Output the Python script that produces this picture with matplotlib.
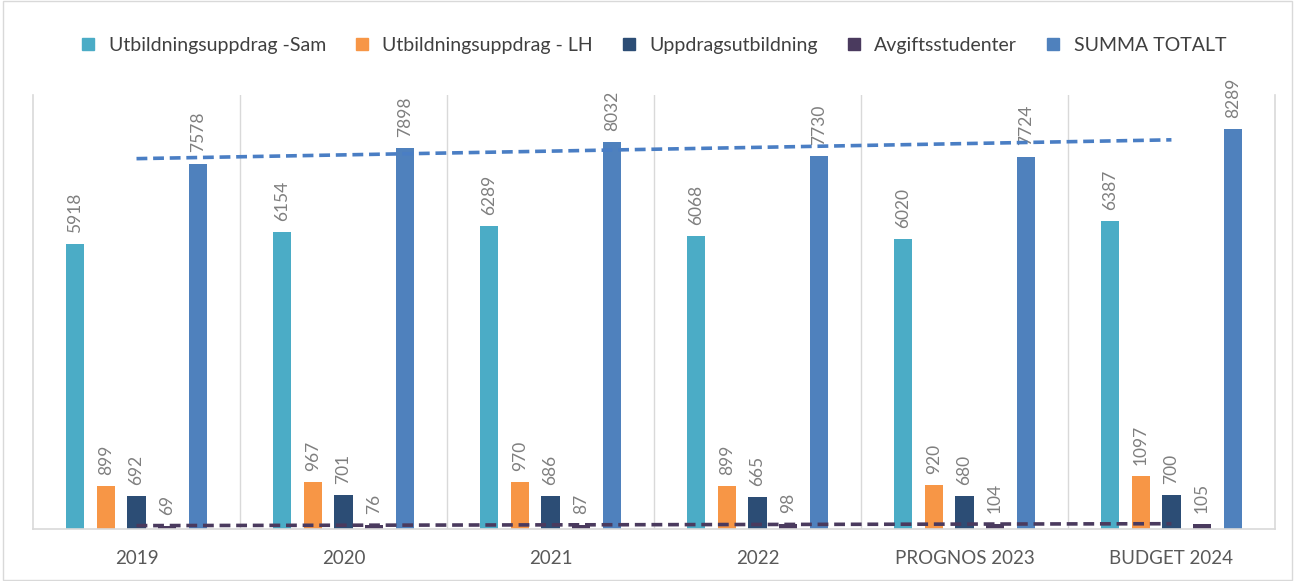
import numpy as np
import matplotlib.pyplot as plt
from matplotlib.lines import Line2D

# Data
categories = ['2019', '2020', '2021', '2022', 'PROGNOS 2023', 'BUDGET 2024']
series_names = ['Utbildningsuppdrag -Sam', 'Utbildningsuppdrag - LH',
                'Uppdragsutbildning', 'Avgiftsstudenter', 'SUMMA TOTALT']
sam = [5918, 6154, 6289, 6068, 6020, 6387]
lh = [899, 967, 970, 899, 920, 1097]
uppdrag = [692, 701, 686, 665, 680, 700]
avgift = [69, 76, 87, 98, 104, 105]
summa = [7578, 7898, 8032, 7730, 7724, 8289]

colors = ['#4BACC6', '#F79646', '#2C4D75', '#4A3A5E', '#4F81BD']
values = [sam, lh, uppdrag, avgift, summa]

plt.rcParams['font.family'] = ['Lato', 'DejaVu Sans']

fig = plt.figure(figsize=(12.95, 5.81), dpi=100)
ax = fig.add_axes([0.0255, 0.0895, 0.959, 0.747])

x = np.arange(len(categories))
step = 0.148
width = 0.088
for i, (vals, col) in enumerate(zip(values, colors)):
    pos = x + (i - 2) * step
    ax.bar(pos, vals, width=width, color=col, zorder=2)
    for px, v in zip(pos, vals):
        ax.annotate(str(v), (px, v), xytext=(0, 8), textcoords='offset points',
                    rotation=90, ha='center', va='bottom', fontsize=12.5,
                    color='#7F7F7F')

# Linear trendlines
for vals, col in [(summa, '#4A7EC4'), (avgift, '#4A3A5E')]:
    k, m = np.polyfit(x, vals, 1)
    ax.plot(x, k * x + m, linestyle=(0, (3, 1.6)), color=col, lw=2.6, zorder=3)

ax.set_xlim(-0.5, len(categories) - 0.5)
ax.set_ylim(0, 9000)
ax.set_yticks([])
ax.set_xticks(x)
ax.set_xticklabels(categories, fontsize=13.5, color='#595959')
ax.tick_params(axis='x', length=0, pad=15)

# Category separators
for b in np.arange(0.5, len(categories) - 0.5, 1):
    ax.axvline(b, color='#D9D9D9', lw=1, zorder=1)
for side in ['left', 'right', 'bottom']:
    ax.spines[side].set_color('#D9D9D9')
    ax.spines[side].set_linewidth(1.2)
ax.spines['top'].set_visible(False)

handles = [Line2D([], [], marker='s', linestyle='none', markersize=8,
                  color=c) for c in colors]
fig.legend(handles, series_names, loc='center', bbox_to_anchor=(0.5, 0.922),
           ncol=5, frameon=False, fontsize=14, handletextpad=0.05,
           columnspacing=0.85, labelcolor='#404040')

fig.patches.append(plt.Rectangle((0.002, 0.002), 0.996, 0.996, fill=False,
                                 edgecolor='#D9D9D9', lw=1,
                                 transform=fig.transFigure))

plt.savefig('out.png', dpi=100)
